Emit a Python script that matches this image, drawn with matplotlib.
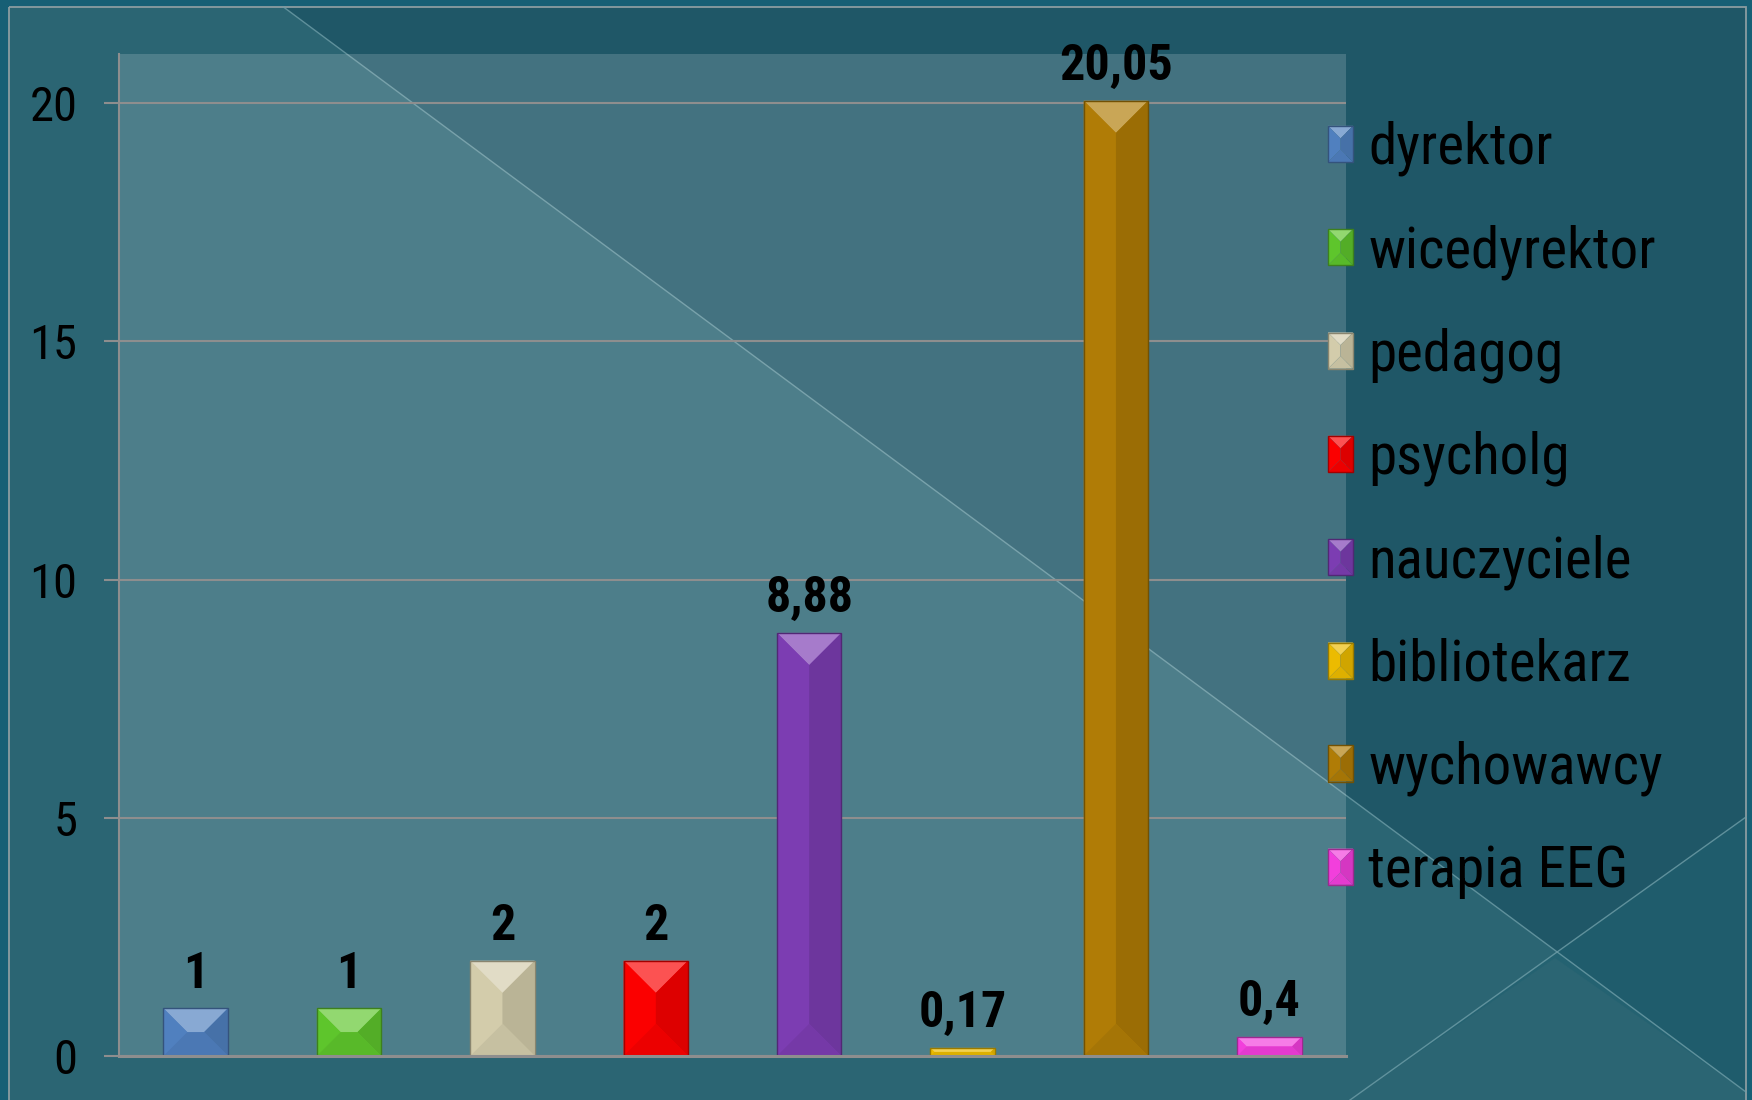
import matplotlib
matplotlib.use("Agg")
import matplotlib.pyplot as plt
import matplotlib.font_manager as fm
from matplotlib.patches import Polygon, Patch, Rectangle
from matplotlib.legend_handler import HandlerBase
import numpy as np

# ---------------- data ----------------
categories = ["dyrektor", "wicedyrektor", "pedagog", "psycholg", "nauczyciele",
              "bibliotekarz", "wychowawcy", "terapia EEG"]
values = [1, 1, 2, 2, 8.88, 0.17, 20.05, 0.4]
colors = ["#5080bf", "#5ec52c", "#d3ccab", "#fb0000", "#7c3db2",
          "#ecbb00", "#b07c06", "#f23fdc"]
yticks = [0, 5, 10, 15, 20]


def pick(*names):
    for n in names:
        try:
            fm.findfont(fm.FontProperties(family=n), fallback_to_default=False)
            return n
        except Exception:
            pass
    return "DejaVu Sans"


narrow = pick("Liberation Sans Narrow", "Roboto Condensed", "DejaVu Sans")

W, H = 1752, 1100
fig = plt.figure(figsize=(W / 100, H / 100), dpi=100, facecolor="#175f75")

# ---------------- background decoration ----------------
bg = fig.add_axes([0, 0, 1, 1], zorder=-5)
bg.set_xlim(0, W)
bg.set_ylim(H, 0)
bg.axis("off")
x0, y0, x1, y1 = 9, 7, 1746, 1100


def ydesc(x):
    return (x - 274) * 1095 / 1476


def xdesc(y):
    return 274 + y * 1476 / 1095


bg.add_patch(Polygon([(x0, y0), (xdesc(y0), y0), (x1, ydesc(x1)), (x1, y1), (x0, y1)],
                     closed=True, facecolor="#2b6573", edgecolor="none"))
bg.add_patch(Polygon([(xdesc(y0), y0), (x1, y0), (x1, ydesc(x1))],
                     closed=True, facecolor="#1f5767", edgecolor="none"))
bg.add_patch(Polygon([(1350, y1), (x1, 817), (x1, ydesc(x1)), (1555, 958)],
                     closed=True, facecolor="#206070", edgecolor="none", alpha=0.6))
bg.plot([xdesc(y0), x1], [y0, ydesc(x1)], color="#6f9ea8", lw=1.0, alpha=0.8)
bg.plot([1350, x1], [y1, 817], color="#6f9ea8", lw=1.0, alpha=0.8)
bg.add_patch(Rectangle((x0, y0), x1 - x0, y1 - y0 + 20, fill=False,
                       edgecolor="#8b9ca1", lw=1.3))

# ---------------- main axes ----------------
left, right, top, bottom = 119, 1346, 54, 1056
ax = fig.add_axes([left / W, 1 - bottom / H, (right - left) / W, (bottom - top) / H])
ax.set_facecolor((1, 1, 1, 0.165))
ax.set_xlim(-0.5, len(categories) - 0.5)
ax.set_ylim(0, 21.03)

xs = np.arange(len(categories))
bars = ax.bar(xs, values, width=0.42, color=colors, edgecolor="none", zorder=3)

ax.set_yticks(yticks)
ax.set_yticklabels([str(t) for t in yticks], fontsize=35, family=narrow, color="black")
ax.yaxis.grid(True, color="#8e8e8e", lw=1.5, zorder=0)
ax.set_axisbelow(True)
ax.tick_params(axis="y", length=10.8, width=1.5, color="#8e8e8e", pad=19)
ax.tick_params(axis="x", length=0, labelbottom=False)
for s in ["top", "right"]:
    ax.spines[s].set_visible(False)
ax.spines["left"].set_color("#8e8e8e")
ax.spines["left"].set_linewidth(1.5)
ax.spines["bottom"].set_color("#8e8e8e")
ax.spines["bottom"].set_linewidth(2.2)
ax.spines["bottom"].set_zorder(4)


def shade(c, f):
    r = np.array(matplotlib.colors.to_rgb(c))
    if f >= 0:
        r = r + (1 - r) * f
    else:
        r = r * (1 + f)
    return tuple(np.clip(r, 0, 1))


FAC = {"top": 0.32, "left": 0.0, "right": -0.12, "bottom": -0.06}


def bevel_faces(px0, py0, px1, py1):
    d = min(px1 - px0, py1 - py0) / 2.0
    ix0, ix1 = px0 + d, px1 - d
    iy0, iy1 = py0 + d, py1 - d
    return {
        "top": [(px0, py1), (px1, py1), (ix1, iy1), (ix0, iy1)],
        "left": [(px0, py0), (px0, py1), (ix0, iy1), (ix0, iy0)],
        "right": [(px1, py0), (px1, py1), (ix1, iy1), (ix1, iy0)],
        "bottom": [(px0, py0), (px1, py0), (ix1, iy0), (ix0, iy0)],
    }


tr = ax.transData
for b, c in zip(bars, colors):
    bx, by, bw, bh = b.get_x(), b.get_y(), b.get_width(), b.get_height()
    (px0, py0), (px1, py1) = tr.transform([(bx, by), (bx + bw, by + bh)])
    for k, pts in bevel_faces(px0, py0, px1, py1).items():
        dpts = tr.inverted().transform(pts)
        ax.add_patch(Polygon(dpts, closed=True, facecolor=shade(c, FAC[k]),
                             edgecolor="none", zorder=3.5))
    ax.add_patch(Rectangle((bx, by), bw, bh, fill=False,
                           edgecolor=shade(c, -0.35), lw=1.0, zorder=3.6))

# value labels
for x, v in zip(xs, values):
    ax.annotate("{:g}".format(v).replace(".", ","), (x, v), xytext=(0, 15),
                textcoords="offset points", ha="center", va="baseline",
                fontsize=36, fontweight="bold", family=narrow, color="black",
                zorder=5)


class BevelHandler(HandlerBase):
    def create_artists(self, legend, orig_handle, xdescent, ydescent, width, height,
                       fontsize, trans):
        c = matplotlib.colors.to_hex(orig_handle.get_facecolor())
        a0, b0 = -xdescent, -ydescent
        a1, b1 = a0 + width, b0 + height
        arts = []
        for k, pts in bevel_faces(a0, b0, a1, b1).items():
            arts.append(Polygon(pts, closed=True, facecolor=shade(c, FAC[k]),
                                edgecolor="none", transform=trans))
        arts.append(Rectangle((a0, b0), width, height, fill=False,
                              edgecolor=shade(c, -0.35), lw=1.0, transform=trans))
        return arts


# legend
handles = [Patch(facecolor=c) for c in colors]
leg = ax.legend(handles, categories, loc="upper left",
                bbox_to_anchor=(1328 / W, 1 - 121 / H), bbox_transform=fig.transFigure,
                frameon=False, prop={"family": narrow, "size": 41},
                handler_map={Patch: BevelHandler()},
                handlelength=0.44, handleheight=0.6, handletextpad=0.27,
                labelspacing=0.84, borderpad=0, borderaxespad=0)
for t in leg.get_texts():
    t.set_color("black")

fig.savefig("out.png", dpi=100, facecolor=fig.get_facecolor())
